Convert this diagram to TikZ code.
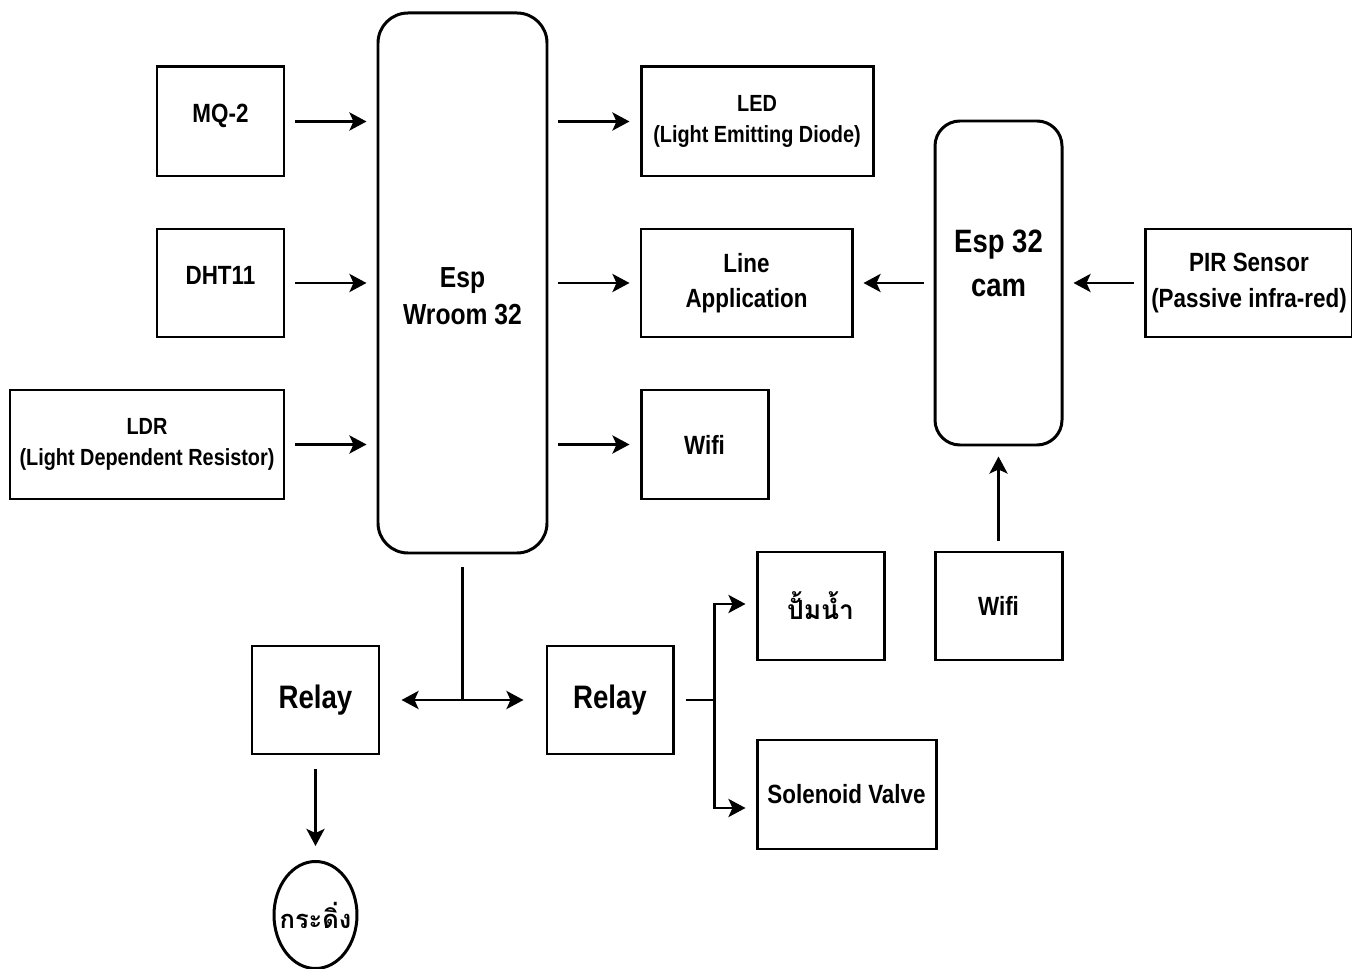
\documentclass[tikz,border=0pt]{standalone}
\usepackage{fontspec}
\setmainfont{Liberation Sans}[FakeStretch=0.85]
\newfontfamily\thaifont[Script=Thai]{Loma}
\usetikzlibrary{arrows.meta,shapes.geometric}
\begin{document}
\begin{tikzpicture}[line width=1.7pt,
        box/.style={rectangle,draw,align=center,font=\bfseries\fontsize{15}{20}\selectfont},
        smallbox/.style={box,font=\bfseries\fontsize{13.3}{18}\selectfont},
        mcu/.style={box,rounded corners=0.6cm},
        relaybox/.style={box,font=\bfseries\fontsize{18.5}{22}\selectfont},
        thai/.style={font=\thaifont\bfseries\fontsize{15}{20}\selectfont},
        >={Stealth[length=0.34cm,width=0.36cm,inset=0.08cm]},
        arr/.style={->,shorten <=0.2cm,shorten >=0.2cm}]
        \useasboundingbox (0,0) rectangle (27.04,-19.38);

        % sensors
        \draw (4.41,-2.43) node (mq) [box,text height=0.3cm,text depth=0.24cm,minimum width=2.54cm,minimum height=2.18cm] {MQ-2};
        \draw (4.41,-5.66) node (dht) [box,text height=0.3cm,text depth=0.22cm,minimum width=2.54cm,minimum height=2.16cm] {DHT11};
        \draw (2.94,-8.89) node (ldr) [smallbox,minimum width=5.48cm,minimum height=2.18cm] {LDR\\(Light Dependent Resistor)};

        % boards
        \draw (9.25,-5.66) node (esp) [mcu,text height=1.9cm,text depth=0.22cm,minimum width=3.38cm,minimum height=10.8cm,font=\bfseries\fontsize{16.5}{21.5}\selectfont] {Esp\\Wroom 32};
        \draw (19.97,-5.66) node (cam) [mcu,rounded corners=0.5cm,text height=0.8cm,text depth=0.24cm,minimum width=2.54cm,minimum height=6.48cm,font=\bfseries\fontsize{18.4}{25.5}\selectfont] {Esp 32\\cam};

        % outputs
        \draw (15.14,-2.43) node (led) [smallbox,minimum width=4.64cm,minimum height=2.18cm] {LED\\(Light Emitting Diode)};
        \draw (14.93,-5.66) node (line) [box,minimum width=4.22cm,minimum height=2.16cm] {Line\\Application};
        \draw (14.09,-8.89) node (wifi) [box,minimum width=2.54cm,minimum height=2.18cm] {Wifi};
        \draw (24.98,-5.66) node (pir) [box,minimum width=4.12cm,minimum height=2.16cm] {PIR Sensor\\(Passive infra-red)};
        \draw (19.97,-12.12) node (wifib) [box,minimum width=2.54cm,minimum height=2.16cm] {Wifi};

        % relays and loads
        \draw (6.31,-14.0) node (relaya) [relaybox,minimum width=2.54cm,minimum height=2.16cm] {Relay};
        \draw (12.2,-14.0) node (relayb) [relaybox,minimum width=2.52cm,minimum height=2.16cm] {Relay};
        \draw (16.41,-12.12) node (pump) [box,thai,minimum width=2.54cm,minimum height=2.16cm] {ปั้มน้ำ};
        \draw (16.93,-15.89) node (valve) [box,minimum width=3.58cm,minimum height=2.18cm] {Solenoid Valve};
        \draw (6.31,-18.3) node (bell) [ellipse,draw,thai,font=\thaifont\bfseries\fontsize{14.5}{18}\selectfont,inner xsep=-0.15cm,inner ysep=0pt,minimum width=1.66cm,minimum height=2.14cm] {กระดิ่ง};

        \draw [arr] (mq.east) to (mq.east -| esp.west);
        \draw [arr] (dht.east) to (dht.east -| esp.west);
        \draw [arr] (ldr.east) to (ldr.east -| esp.west);
        \draw [arr] (led.west -| esp.east) to (led.west);
        \draw [arr] (esp.east) to (line.west);
        \draw [arr] (wifi.west -| esp.east) to (wifi.west);
        \draw [arr] (cam.west) to (line.east);
        \draw [arr] (pir.west) to (cam.east);
        \draw [arr] (wifib.north) to (cam.south);

        \coordinate (j1) at (esp.south |- relaya.east);
        \coordinate (j2) at (14.28,-14.0);
        \draw [shorten <=0.26cm] (esp.south) to (j1);
        \draw [->,shorten >=0.42cm] (j1) to (relaya.east);
        \draw [->,shorten >=0.44cm] (j1) to (relayb.west);
        \draw [shorten <=0.22cm] (relayb.east) to (j2);
        \draw [->,shorten >=0.2cm] (j2) |- ([yshift=0.04cm]pump.west);
        \draw [->,shorten >=0.2cm] (j2) |- ([yshift=-0.27cm]valve.west);
        \draw [arr,shorten <=0.28cm,shorten >=0.28cm] (relaya.south) to (bell.north);
    \end{tikzpicture}
\end{document}
